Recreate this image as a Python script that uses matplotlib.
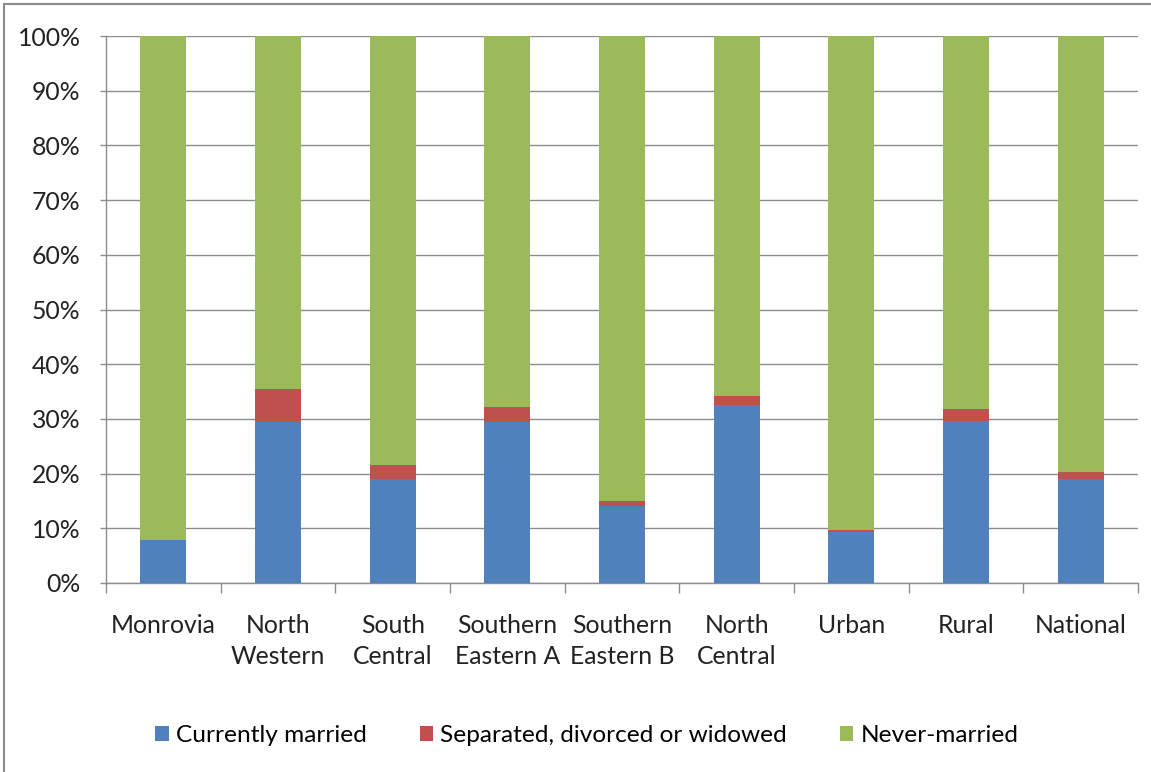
import numpy as np
import matplotlib.pyplot as plt
from matplotlib.patches import Rectangle

# ── Data (percent of total) ────────────────────────────────────
regions = ['Monrovia', 'North\nWestern', 'South\nCentral', 'Southern\nEastern A',
           'Southern\nEastern B', 'North\nCentral', 'Urban', 'Rural', 'National']
married   = [7.9, 29.4, 19.0, 29.4, 14.1, 32.6, 9.4, 29.6, 19.0]
separated = [0.0, 6.0, 2.6, 2.8, 0.8, 1.5, 0.3, 2.3, 1.3]
never     = [100 - m - s for m, s in zip(married, separated)]

series_names = ['Currently married', 'Separated, divorced or widowed', 'Never-married']
colors = ['#4f81bd', '#c0504d', '#9bbb59']

plt.rcParams['font.family'] = ['Lato', 'DejaVu Sans']

# ── Plot ───────────────────────────────────────────────────────
fig = plt.figure(figsize=(11.51, 7.72), dpi=100)
ax = fig.add_axes([106 / 1151, 1 - 583 / 772, (1138 - 106) / 1151, (583 - 36) / 772])

x = np.arange(len(regions))
bottom = np.zeros(len(regions))
for vals, name, col in zip([married, separated, never], series_names, colors):
    ax.bar(x, vals, width=0.4, bottom=bottom, color=col, label=name,
           edgecolor='none', zorder=3)
    bottom += np.array(vals)

ax.set_xlim(-0.5, len(regions) - 0.5)
ax.set_ylim(0, 100)
ax.set_yticks(np.arange(0, 101, 10))
ax.set_yticklabels([f'{v}%' for v in range(0, 101, 10)])
ax.yaxis.grid(True, color='#8c8c8c', linewidth=1.0, zorder=0)

# category labels between boundary ticks
ax.set_xticks(np.arange(-0.5, len(regions), 1.0))
ax.set_xticklabels([])
ax.set_xticks(x, minor=True)
ax.set_xticklabels(regions, minor=True, linespacing=1.45)
ax.tick_params(axis='x', which='major', length=7, color='#8c8c8c', width=1.0)
ax.tick_params(axis='x', which='minor', length=0, pad=22, labelsize=17.8,
               labelcolor='#222222')
ax.tick_params(axis='y', length=4.3, color='#8c8c8c', width=1.0, pad=14,
               labelsize=17.8, labelcolor='#222222')

for side in ['top', 'right']:
    ax.spines[side].set_visible(False)
for side in ['left', 'bottom']:
    ax.spines[side].set_color('#8c8c8c')
    ax.spines[side].set_linewidth(1.0)

# ── Legend ─────────────────────────────────────────────────────
fig.legend(loc='center', bbox_to_anchor=(587 / 1151, 1 - 736 / 772), ncol=3,
           frameon=False, fontsize=17.6, handlelength=0.55, handleheight=0.55,
           handletextpad=0.3, columnspacing=2.15)

# outer chart border
fig.patches.append(Rectangle((4 / 1151, -0.05), 1.2, 1 - 4 / 772 + 0.05,
                             transform=fig.transFigure, fill=False,
                             edgecolor='#8c8c8c', linewidth=1.5))

plt.savefig('out.png', dpi=100)
